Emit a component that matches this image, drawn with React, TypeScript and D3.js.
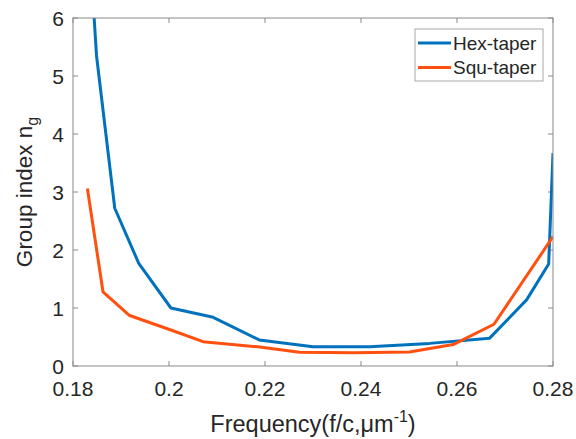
import * as d3 from "d3";

const hexFreq = [0.1838, 0.1849, 0.1887, 0.1937, 0.2004, 0.2092, 0.2188, 0.23, 0.2418, 0.2543, 0.2668, 0.2745, 0.2791, 0.28];
const hexNg = [6.8, 5.35, 2.72, 1.77, 1.0, 0.84, 0.45, 0.33, 0.33, 0.39, 0.48, 1.14, 1.76, 3.67];

const squFreq = [0.183, 0.18625, 0.1918, 0.2004, 0.2071, 0.2185, 0.2272, 0.2385, 0.2501, 0.2592, 0.2677, 0.28];
const squNg = [3.06, 1.28, 0.87, 0.62, 0.42, 0.33, 0.236, 0.23, 0.24, 0.37, 0.72, 2.23];

const xTicks = [0.18, 0.2, 0.22, 0.24, 0.26, 0.28];
const yTicks = [0, 1, 2, 3, 4, 5, 6];

const seriesNames = ["Hex-taper", "Squ-taper"];
const COLORS = ["#0072BD", "#FF5010"];

const W = 576;
const H = 439;
const margin = { top: 18, right: 23, bottom: 73, left: 73 };
const FONT = "'Liberation Sans', Arial, Helvetica, sans-serif";
const AXIS = "#8a8a8a";
const TEXT = "#262626";
const TICK = 5;

export default function App() {
  const innerW = W - margin.left - margin.right;
  const innerH = H - margin.top - margin.bottom;

  const x = d3.scaleLinear().domain([0.18, 0.28]).range([0, innerW]);
  const y = d3.scaleLinear().domain([0, 6]).range([innerH, 0]);

  const line = d3
    .line<[number, number]>()
    .x((d) => x(d[0]))
    .y((d) => y(d[1]));

  const series = [
    d3.zip(hexFreq, hexNg) as [number, number][],
    d3.zip(squFreq, squNg) as [number, number][],
  ];

  const fmt = (v: number) => String(+v.toFixed(2));

  return (
    <svg
      width={W}
      height={H}
      style={{ position: "absolute", left: 0, top: 0, background: "#fff" }}
      fontFamily={FONT}
    >
      <defs>
        <clipPath id="plot-clip">
          <rect x={0} y={0} width={innerW} height={innerH} />
        </clipPath>
      </defs>
      <g transform={`translate(${margin.left},${margin.top})`}>
        {/* ticks on all four sides, pointing inward */}
        {xTicks.map((t) => (
          <g key={`xt${t}`}>
            <line x1={x(t)} x2={x(t)} y1={innerH} y2={innerH - TICK} stroke={AXIS} />
            <line x1={x(t)} x2={x(t)} y1={0} y2={TICK} stroke={AXIS} />
            <text
              x={x(t)}
              y={innerH + 30}
              textAnchor="middle"
              fontSize={21}
              fill={TEXT}
            >
              {fmt(t)}
            </text>
          </g>
        ))}
        {yTicks.map((t) => (
          <g key={`yt${t}`}>
            <line x1={0} x2={TICK} y1={y(t)} y2={y(t)} stroke={AXIS} />
            <line x1={innerW} x2={innerW - TICK} y1={y(t)} y2={y(t)} stroke={AXIS} />
            <text
              x={-9}
              y={y(t)}
              dy="0.36em"
              textAnchor="end"
              fontSize={21}
              fill={TEXT}
            >
              {t}
            </text>
          </g>
        ))}

        {/* curves */}
        <g clipPath="url(#plot-clip)">
          {series.map((s, i) => (
            <path
              key={seriesNames[i]}
              d={line(s) ?? ""}
              fill="none"
              stroke={COLORS[i]}
              strokeWidth={3}
              strokeLinejoin="round"
            />
          ))}
        </g>

        {/* box */}
        <rect
          x={0}
          y={0}
          width={innerW}
          height={innerH}
          fill="none"
          stroke={AXIS}
          strokeWidth={1}
        />

        {/* legend */}
        <g transform={`translate(${innerW - 138},${11})`}>
          <rect x={0} y={0} width={128} height={52} fill="#fff" stroke="#a8a8a8" strokeWidth={1} />
          {seriesNames.map((name, i) => (
            <g key={name} transform={`translate(0,${14 + i * 24.5})`}>
              <line x1={3} x2={36} y1={0} y2={0} stroke={COLORS[i]} strokeWidth={3} />
              <text x={38} y={0} dy="0.35em" fontSize={19} fill={TEXT}>
                {name}
              </text>
            </g>
          ))}
        </g>

        {/* axis titles */}
        <text
          x={innerW / 2}
          y={innerH + 65.5}
          textAnchor="middle"
          fontSize={23.5}
          fill={TEXT}
        >
          Frequency(f/c,μm
          <tspan dy={-10} fontSize={16}>-1</tspan>
          <tspan dy={10}>)</tspan>
        </text>
        <text
          transform={`translate(${-41},${innerH / 2}) rotate(-90)`}
          textAnchor="middle"
          fontSize={22.5}
          fill={TEXT}
        >
          Group index n
          <tspan dy={6} fontSize={16}>g</tspan>
        </text>
      </g>
    </svg>
  );
}
